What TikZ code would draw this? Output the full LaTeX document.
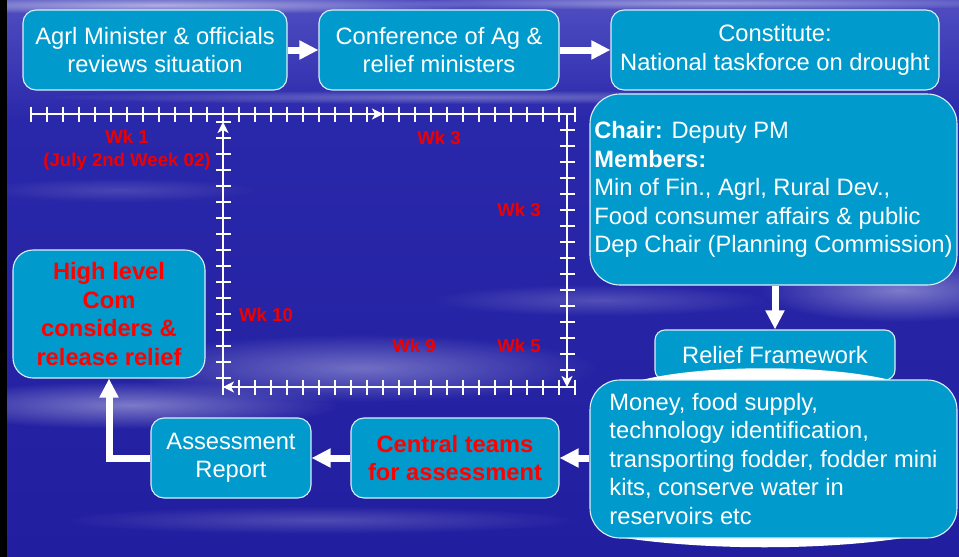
\documentclass[tikz,border=0pt]{standalone}
\usepackage{fontspec}
\setmainfont{Liberation Sans}
\usetikzlibrary{arrows.meta,positioning,fadings}

\definecolor{skyblue}{RGB}{42,40,170}
\definecolor{skytop}{RGB}{80,78,192}
\definecolor{skylow}{RGB}{34,30,160}
\definecolor{boxblue}{RGB}{0,154,204}
\definecolor{wkred}{RGB}{238,0,0}

\tikzfading[name=fuzzy, inner color=transparent!0, outer color=transparent!100]

\begin{document}
\begin{tikzpicture}[x=1pt, y=-1pt,
    box/.style={draw=white!85!boxblue, line width=1.1pt, fill=boxblue, rounded corners=13pt,
        text=white, font=\fontsize{23.7}{28.5}\selectfont, align=center, inner sep=0pt},
    hot/.style={text=red, font=\fontsize{23.7}{28.5}\selectfont\bfseries},
    flow/.style={white, line width=7pt, -{Triangle[length=19pt, width=18pt]}},
    tl/.style={white, line width=1.8pt},
    tlarrow/.style={tl, -{Stealth[length=11pt, width=11pt, inset=3pt]}},
    wk/.style={text=wkred, font=\fontsize{18.6}{23}\selectfont\bfseries, align=center},
    cloud/.style={white, path fading=fuzzy}]

    \useasboundingbox (0,0) rectangle (959,557);

    % sky
    \shade[top color=skytop, bottom color=skyblue] (0,0) rectangle (959,120);
    \shade[top color=skyblue, bottom color=skylow] (0,120) rectangle (959,557);
    \fill[cloud, opacity=.55] (160,5) ellipse (320 and 9);
    \fill[cloud, opacity=.45] (720,3) ellipse (330 and 7);
    \fill[cloud, opacity=.30] (460,97) ellipse (420 and 7);
    \fill[cloud, opacity=.15] (120,190) ellipse (140 and 12);
    \fill[cloud, opacity=.20] (600,300) ellipse (170 and 16);
    \fill[cloud, opacity=.40] (900,290) ellipse (140 and 32);
    \fill[cloud, opacity=.35] (360,368) ellipse (240 and 34);
    \fill[cloud, opacity=.40] (130,405) ellipse (210 and 24);
    \fill[cloud, opacity=.20] (320,520) ellipse (260 and 14);
    \fill[black] (0,0) rectangle (7,557);

    % timeline round the middle
    \coordinate (tl start) at (31,114);
    \coordinate (tl ne) at (567,114);
    \coordinate (tl se) at (567,387);
    \coordinate (tl sw) at (223,387);
    \coordinate (tl top) at (223,122);
    \draw[tl] (tl start) -- (575,114);
    \draw[tlarrow] (tl start) -- (383,114);
    \draw[tlarrow] (tl ne) -- (tl se);
    \draw[tl] (575,387) -- (tl sw);
    \draw[tlarrow] (575,387) -- (tl sw);
    \draw[tlarrow] (tl sw) -- (tl top);
    \foreach \i in {0,...,34}
        \draw[tl] (31+16*\i,106.5) -- ++(0,15);
    \foreach \i in {1,...,16}
        \draw[tl] (559.5,114+16*\i) -- ++(15,0);
    \foreach \i in {0,...,22}
        \draw[tl] (223+16*\i,379.5) -- ++(0,15);
    \foreach \i in {0,...,16}
        \draw[tl] (215.5,121.7+16*\i) -- ++(15,0);

    \node[wk] (wk1) at (127,150.5) {Wk 1\\(July 2nd Week 02)};
    \node[wk] (wk3 top) at (439,138) {Wk 3};
    \node[wk] (wk3 side) at (519,210) {Wk 3};
    \node[wk] (wk5) at (519,346) {Wk 5};
    \node[wk] (wk9) at (414,346) {Wk 9};
    \node[wk] (wk10) at (266,315) {Wk 10};

    % boxes
    \node[box, minimum width=264pt, minimum height=80pt] (review) at (155,50)
        {Agrl Minister \& officials\\reviews situation};
    \node[box, minimum width=240pt, minimum height=80pt] (conf) at (439,50)
        {Conference of Ag \&\\relief ministers};
    \node[box, minimum width=328pt, minimum height=80pt] (constitute) at (775,50)
        {Constitute:\\National taskforce on drought};
    \node[box, rounded corners=30pt, minimum width=367pt, minimum height=191pt, align=left] (taskforce) at (773.5,189.5)
        {\textbf{Chair:} Deputy PM\\\textbf{Members:}\\Min of Fin., Agrl, Rural Dev.,\\Food consumer affairs \& public\\Dep Chair (Planning Commission)};
    \node[box, rounded corners=10pt, minimum width=240pt, minimum height=50pt] (framework) at (775,355)
        {Relief Framework};
    \fill[white] (638,381) .. controls (700,364) and (830,364) .. (894,381) -- cycle;
    \fill[white] (612,536) .. controls (700,551) and (830,551) .. (915,536) -- cycle;
    \node[box, rounded corners=30pt, minimum width=367pt, minimum height=158pt, align=left] (measures) at (773.5,459)
        {Money, food supply,\\technology identification,\\transporting fodder, fodder mini\\kits, conserve water in\\reservoirs etc};
    \node[box, hot, minimum width=208pt, minimum height=80pt] (teams) at (455,458)
        {Central teams\\for assessment};
    \node[box, minimum width=160pt, minimum height=80pt] (report) at (231,458)
        {Assessment\\Report};
    \node[box, hot, rounded corners=20pt, minimum width=192pt, minimum height=128pt] (highlevel) at (109,314)
        {High level\\Com\\considers \&\\release relief};

    % flow arrows
    \draw[flow] (review) -- (conf);
    \draw[flow] (conf) -- (constitute);
    \draw[flow] (taskforce.south -| framework.north) -- (framework.north);
    \draw[flow] (measures.west |- teams.east) -- (teams.east);
    \draw[flow] (teams) -- (report);
    \draw[flow] (report.west) -| (highlevel.south);
\end{tikzpicture}
\end{document}
